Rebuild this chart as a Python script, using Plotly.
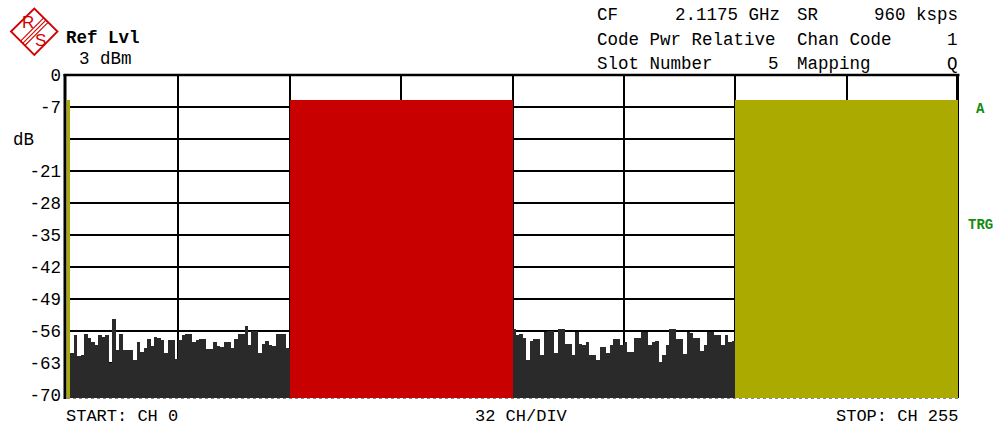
import plotly.graph_objects as go

# ---------------- data ----------------
n_channels = 256
ch0_level = -5.5
red_channels = list(range(64, 128))
red_level = -5.5
olive_channels = list(range(192, 256))
olive_level = -5.5

noise_a_channels = list(range(1, 64))
noise_a = [-60.8, -56.9, -61.5, -61.3, -56.6, -57.5, -58.5, -59.0, -56.9, -57.3,
           -56.9, -63.1, -53.4, -60.1, -56.6, -60.1, -60.1, -60.1, -62.4, -58.5,
           -60.6, -59.7, -57.8, -59.3, -57.3, -57.5, -58.0, -60.8, -58.0, -58.0,
           -62.1,
           -58.0, -56.9, -56.6, -56.6, -58.4, -58.0, -57.8, -57.8, -59.9, -59.9,
           -58.5, -59.3, -59.5, -58.5, -58.5, -59.7, -57.7, -56.6, -56.6, -55.0,
           -59.0, -55.9, -55.9, -60.8, -58.8, -58.2, -59.1, -59.2, -56.6, -56.6,
           -56.6, -59.7]

noise_b_channels = list(range(128, 192))
noise_b = [-55.5, -56.8, -56.6, -57.5, -62.3, -58.2, -57.8, -57.8, -61.2, -56.2,
           -56.1, -56.1, -60.8, -55.5, -55.5, -58.8, -58.8, -61.2, -56.2, -58.8,
           -59.0, -58.5, -61.3, -61.3, -62.4, -59.4, -59.4, -60.8, -59.1, -57.8,
           -57.8, -59.1,
           -58.5, -60.6, -60.6, -57.5, -57.5, -56.2, -56.2, -59.0, -58.5, -58.2,
           -62.8, -61.2, -59.0, -55.5, -55.5, -57.8, -57.8, -61.0, -56.2, -56.4,
           -57.5, -57.5, -60.4, -59.0, -56.2, -56.2, -56.9, -56.9, -59.0, -56.9,
           -58.5, -58.2]

y_ticks = [0, -7, -14, -21, -28, -35, -42, -49, -56, -63, -70]
y_ticklabels = ["0", "-7", "", "-21", "-28", "-35", "-42", "-49", "-56", "-63", "-70"]
x_grid = [32, 64, 96, 128, 160, 192, 224]

header_left = ["Ref Lvl", "3 dBm"]
footer = ["START: CH 0", "32 CH/DIV", "STOP: CH 255"]

# ---------------- style ----------------
W, H = 1001, 426
L, R, T, B = 67, 958, 75, 398
Y_MIN = -70.66
FONT = "Liberation Mono, Courier New, monospace"
FS = 17.5
NOISE_COL = "#2a2a2a"
RED_COL = "#c80000"
OLIVE_COL = "#aaaa00"
GREEN = "#128c12"
LOGO_RED = "#d20000"


def px(x):
    return (x - L) / (R - L)


def py(y):
    return 1 - (y - T) / (B - T)


def bar_trace(chs, levels, color):
    return go.Bar(
        x=[c + 0.5 for c in chs],
        y=[v - Y_MIN for v in levels],
        base=Y_MIN,
        width=1,
        marker=dict(color=color, line=dict(width=0)),
        showlegend=False,
        hoverinfo="skip",
    )


def block_trace(chs, level, color):
    # a run of adjacent channels with one common level, drawn as one solid block
    return go.Bar(
        x=[(chs[0] + chs[-1] + 1) / 2],
        y=[level - Y_MIN],
        base=Y_MIN,
        width=len(chs),
        marker=dict(color=color, line=dict(width=0)),
        showlegend=False,
        hoverinfo="skip",
    )


fig = go.Figure()
fig.add_trace(bar_trace(noise_a_channels, noise_a, NOISE_COL))
fig.add_trace(bar_trace(noise_b_channels, noise_b, NOISE_COL))
fig.add_trace(block_trace(red_channels, red_level, RED_COL))
fig.add_trace(block_trace(olive_channels, olive_level, OLIVE_COL))
fig.add_trace(bar_trace([0], [ch0_level], OLIVE_COL))

annotations = []


def ann(text, x, y, xanchor="left", size=FS, color="black", bold=False, family=FONT,
        yanchor="middle"):
    if bold:
        text = "<b>" + text + "</b>"
    annotations.append(dict(
        text=text, x=px(x), y=py(y), xref="paper", yref="paper",
        xanchor=xanchor, yanchor=yanchor, showarrow=False, borderpad=0,
        font=dict(family=family, size=size, color=color),
    ))


ann(header_left[0], 65, 38, bold=True)
ann(header_left[1], 78, 59)
ann("CF", 596, 15)
ann("2.1175 GHz", 781, 15, xanchor="right")
ann("SR", 796, 15)
ann("960 ksps", 959, 15, xanchor="right")
ann("Code Pwr Relative", 596, 40)
ann("Chan Code", 796, 40)
ann("1", 959, 40, xanchor="right")
ann("Slot Number", 596, 64)
ann("5", 780, 64, xanchor="right")
ann("Mapping", 796, 64)
ann("Q", 959, 64, xanchor="right")
ann("dB", 23, 140, xanchor="center")
ann("A", 980, 109, xanchor="center", size=14, color=GREEN, bold=True)
ann("TRG", 980, 225, xanchor="center", size=14, color=GREEN, bold=True)
ann(footer[0], 65, 427, yanchor="bottom", size=17)
ann(footer[1], 521, 427, xanchor="center", yanchor="bottom", size=17)
ann(footer[2], 959, 427, xanchor="right", yanchor="bottom", size=17)
ann("R", 28, 23, xanchor="center", size=17, color=LOGO_RED, family="Liberation Sans")
ann("S", 40, 40, xanchor="center", size=17, color=LOGO_RED, family="Liberation Sans")

shapes = []
# logo diamond
shapes.append(dict(
    type="path", xref="paper", yref="paper",
    path="M {},{} L {},{} L {},{} L {},{} Z".format(
        px(11), py(31.5), px(34.3), py(8.5), px(57.5), py(31.5), px(34.3), py(55)),
    line=dict(color=LOGO_RED, width=1.8), layer="above",
))
for off in (-2.2, 0, 2.2):
    shapes.append(dict(
        type="line", xref="paper", yref="paper",
        x0=px(22.7 + off), y0=py(43.3 + off), x1=px(45.9 + off), y1=py(20.1 + off),
        line=dict(color=LOGO_RED, width=1.1), layer="above",
    ))
# frame
shapes.append(dict(type="line", xref="paper", yref="paper", x0=px(L - 3.5), x1=px(R + 1.5),
                   y0=1, y1=1, line=dict(color="black", width=2.6), layer="above"))
shapes.append(dict(type="line", xref="paper", yref="paper", x0=px(R - 0.5), x1=px(R - 0.5),
                   y0=0, y1=1, line=dict(color="black", width=3), layer="below"))
shapes.append(dict(type="line", xref="paper", yref="paper", x0=0, x1=1,
                   y0=py(B + 0.5), y1=py(B + 0.5), line=dict(color="#888888", width=1, dash="dot"),
                   layer="above"))
shapes.append(dict(type="line", xref="paper", yref="paper", x0=px(L - 2), x1=px(L - 2),
                   y0=py(B + 1), y1=py(T - 1), line=dict(color="black", width=3), layer="above"))

fig.update_layout(
    width=W, height=H,
    margin=dict(l=L, r=W - R, t=T, b=H - B, pad=0),
    paper_bgcolor="white", plot_bgcolor="white",
    bargap=0, barmode="overlay",
    font=dict(family=FONT, size=FS, color="black"),
    xaxis=dict(range=[0, n_channels], tickvals=x_grid, showticklabels=False,
               showgrid=True, gridcolor="black", gridwidth=2, zeroline=False,
               showline=False, ticks="", fixedrange=True),
    yaxis=dict(range=[Y_MIN, 0], tickvals=y_ticks, ticktext=y_ticklabels,
               showgrid=True, gridcolor="black", gridwidth=2, zeroline=False,
               showline=False, ticks="", ticklabelstandoff=5,
               tickfont=dict(family=FONT, size=17.5, color="black"), fixedrange=True),
    annotations=annotations,
    shapes=shapes,
    showlegend=False,
)

post = ("document.body.style.margin='0';document.body.style.padding='0';"
        "document.body.style.overflow='hidden';"
        "document.querySelectorAll('.bars path').forEach(function(p){p.style.shapeRendering='crispEdges';});")
fig.write_html("out.html", post_script=post, config={"displayModeBar": False})
